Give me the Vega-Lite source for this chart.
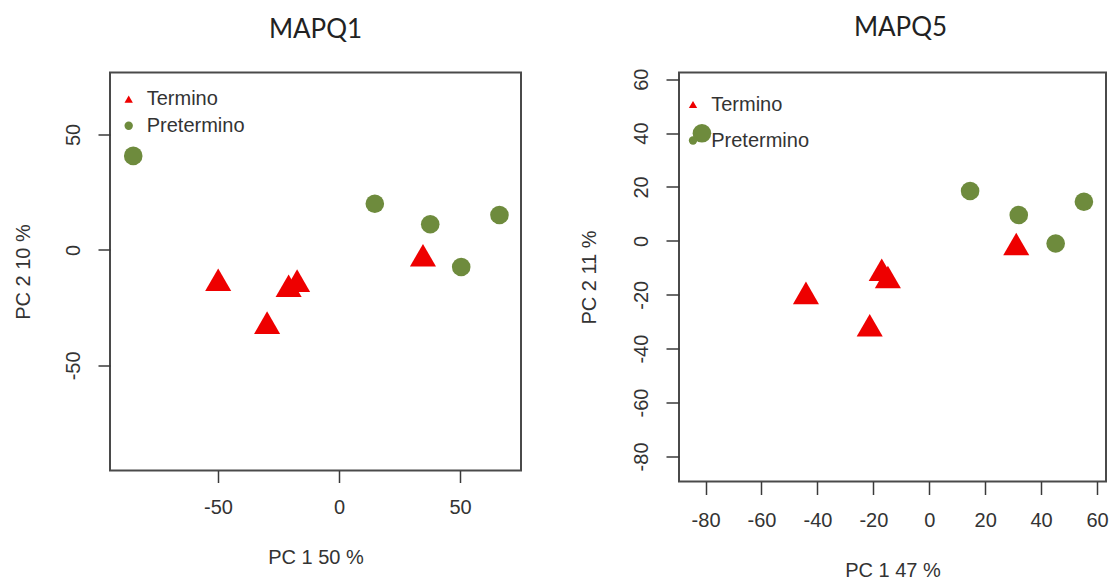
{
  "$schema": "https://vega.github.io/schema/vega-lite/v6.json",
  "background": "white",
  "padding": {"left": 12, "top": 13.5, "right": 0, "bottom": 0},
  "datasets": {
    "pca": [
      {"panel": "MAPQ1", "grupo": "Termino", "pc1": -49.9, "pc2": -12.9},
      {"panel": "MAPQ1", "grupo": "Termino", "pc1": -29.7, "pc2": -31.5},
      {"panel": "MAPQ1", "grupo": "Termino", "pc1": -20.8, "pc2": -15.5},
      {"panel": "MAPQ1", "grupo": "Termino", "pc1": -17.3, "pc2": -13.3},
      {"panel": "MAPQ1", "grupo": "Termino", "pc1": 34.7, "pc2": -2.3},
      {"panel": "MAPQ1", "grupo": "Pretermino", "pc1": -85.0, "pc2": 40.7},
      {"panel": "MAPQ1", "grupo": "Pretermino", "pc1": 14.8, "pc2": 20.0},
      {"panel": "MAPQ1", "grupo": "Pretermino", "pc1": 37.7, "pc2": 11.1},
      {"panel": "MAPQ1", "grupo": "Pretermino", "pc1": 66.3, "pc2": 15.1},
      {"panel": "MAPQ1", "grupo": "Pretermino", "pc1": 50.5, "pc2": -7.4},
      {"panel": "MAPQ5", "grupo": "Termino", "pc1": -44.1, "pc2": -19.3},
      {"panel": "MAPQ5", "grupo": "Termino", "pc1": -21.3, "pc2": -31.3},
      {"panel": "MAPQ5", "grupo": "Termino", "pc1": -17.0, "pc2": -10.7},
      {"panel": "MAPQ5", "grupo": "Termino", "pc1": -14.8, "pc2": -13.4},
      {"panel": "MAPQ5", "grupo": "Termino", "pc1": 31.1, "pc2": -1.2},
      {"panel": "MAPQ5", "grupo": "Pretermino", "pc1": -81.3, "pc2": 39.9},
      {"panel": "MAPQ5", "grupo": "Pretermino", "pc1": 14.6, "pc2": 18.5},
      {"panel": "MAPQ5", "grupo": "Pretermino", "pc1": 32.0, "pc2": 9.6},
      {"panel": "MAPQ5", "grupo": "Pretermino", "pc1": 55.3, "pc2": 14.5},
      {"panel": "MAPQ5", "grupo": "Pretermino", "pc1": 45.2, "pc2": -1.0}
    ]
  },
  "config": {
    "font": "Liberation Sans",
    "view": {"stroke": "#4a4a4a", "strokeWidth": 2},
    "axis": {
      "domain": false,
      "grid": false,
      "tickColor": "#3a3a3a",
      "tickWidth": 1.5,
      "tickSize": 12,
      "labelFont": "Liberation Sans",
      "labelFontSize": 20,
      "labelColor": "#333333",
      "titleFont": "Liberation Sans",
      "titleFontSize": 20,
      "titleFontWeight": "normal",
      "titleColor": "#333333",
      "labelOverlap": false,
      "labelFlush": false
    },
    "legend": {
      "labelFont": "Liberation Sans",
      "labelFontSize": 20,
      "labelColor": "#333333",
      "symbolSize": 70,
      "symbolStrokeWidth": 0
    },
    "title": {
      "font": "Lato",
      "fontSize": 26,
      "fontWeight": "normal",
      "color": "#222222",
      "anchor": "middle"
    }
  },
  "bounds": "flush",
  "spacing": 158,
  "hconcat": [
    {
      "title": {"text": "MAPQ1", "offset": 29.5},
      "width": 411,
      "height": 398,
      "data": {"name": "pca"},
      "transform": [{"filter": "datum.panel === 'MAPQ1'"}],
      "mark": {"type": "point", "filled": true, "opacity": 1},
      "encoding": {
        "x": {
          "field": "pc1", "type": "quantitative",
          "scale": {"domain": [-94.6, 75.2], "nice": false, "zero": false},
          "axis": {"title": "PC 1 50 %", "values": [-50, 0, 50], "labelPadding": 14.5, "titlePadding": 30, "labelExpr": "'' + datum.value"}
        },
        "y": {
          "field": "pc2", "type": "quantitative",
          "scale": {"domain": [-95.5, 76.8], "nice": false, "zero": false},
          "axis": {"title": "PC 2 10 %", "values": [-50, 0, 50], "labelAngle": -90, "labelAlign": "center", "labelBaseline": "bottom", "labelPadding": 15, "titlePadding": 30, "labelExpr": "'' + datum.value"}
        },
        "color": {
          "field": "grupo", "type": "nominal",
          "scale": {"domain": ["Termino", "Pretermino"], "range": ["#ee0000", "#6e8b3d"]},
          "legend": {
            "title": null, "orient": "none", "legendX": 8.7, "legendY": 16.7, "rowPadding": 6.5, "labelOffset": 8,
            "encode": {"symbols": {"update": {"size": {"signal": "datum.value === 'Termino' ? 86 : 52"}}}}
          }
        },
        "shape": {
          "field": "grupo", "type": "nominal",
          "scale": {"domain": ["Termino", "Pretermino"], "range": ["triangle-up", "circle"]},
          "legend": {
            "title": null, "orient": "none", "legendX": 8.7, "legendY": 16.7, "rowPadding": 6.5, "labelOffset": 8,
            "encode": {"symbols": {"update": {"size": {"signal": "datum.value === 'Termino' ? 86 : 52"}}}}
          }
        },
        "size": {"condition": {"test": "datum.grupo === 'Termino'", "value": 680}, "value": 346}
      }
    },
    {
      "title": {"text": "MAPQ5", "offset": 27.5, "dx": 8},
      "width": 427,
      "height": 409,
      "data": {"name": "pca"},
      "transform": [{"filter": "datum.panel === 'MAPQ5'"}],
      "mark": {"type": "point", "filled": true, "opacity": 1},
      "encoding": {
        "x": {
          "field": "pc1", "type": "quantitative",
          "scale": {"domain": [-89.5, 63.2], "nice": false, "zero": false},
          "axis": {"title": "PC 1 47 %", "values": [-80, -60, -40, -20, 0, 20, 40, 60], "tickSize": 13, "labelPadding": 16, "titlePadding": 30, "labelExpr": "'' + datum.value"}
        },
        "y": {
          "field": "pc2", "type": "quantitative",
          "scale": {"domain": [-89.3, 62.46], "nice": false, "zero": false},
          "axis": {"title": "PC 2 11 %", "values": [-80, -60, -40, -20, 0, 20, 40, 60], "tickSize": 13, "labelAngle": -90, "labelAlign": "center", "labelBaseline": "bottom", "labelPadding": 14.5, "titlePadding": 32, "labelExpr": "'' + datum.value"}
        },
        "color": {
          "field": "grupo", "type": "nominal",
          "scale": {"domain": ["Termino", "Pretermino"], "range": ["#ee0000", "#6e8b3d"]},
          "legend": {
            "title": null, "orient": "none", "legendX": 4, "legendY": 22, "rowPadding": 16, "labelOffset": 8.2,
            "encode": {"symbols": {"update": {"size": {"signal": "datum.value === 'Termino' ? 86 : 52"}}}}
          }
        },
        "shape": {
          "field": "grupo", "type": "nominal",
          "scale": {"domain": ["Termino", "Pretermino"], "range": ["triangle-up", "circle"]},
          "legend": {
            "title": null, "orient": "none", "legendX": 4, "legendY": 22, "rowPadding": 16, "labelOffset": 8.2,
            "encode": {"symbols": {"update": {"size": {"signal": "datum.value === 'Termino' ? 86 : 52"}}}}
          }
        },
        "size": {"condition": {"test": "datum.grupo === 'Termino'", "value": 680}, "value": 346}
      }
    }
  ],
  "resolve": {"scale": {"x": "independent", "y": "independent", "color": "independent", "shape": "independent"}, "legend": {"color": "independent", "shape": "independent"}}
}
